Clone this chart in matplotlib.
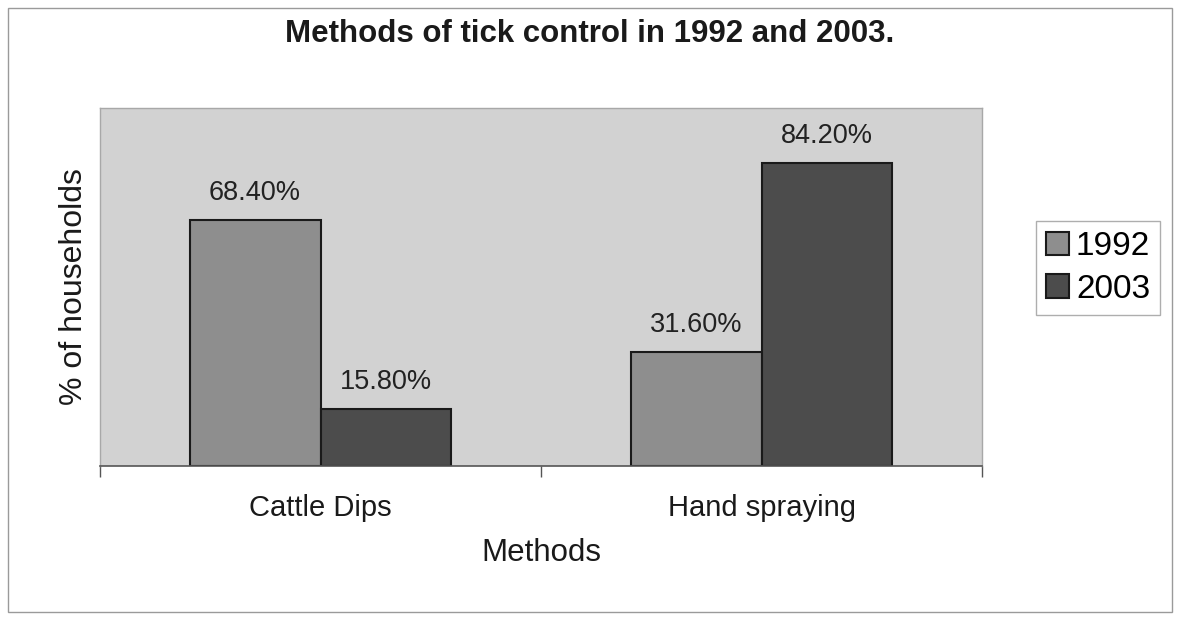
import matplotlib.pyplot as plt
import numpy as np
from matplotlib.patches import Rectangle

plt.rcParams['font.family'] = ['Liberation Sans', 'DejaVu Sans']

methods = ['Cattle Dips', 'Hand spraying']
years = ['1992', '2003']
pct_1992 = [68.4, 31.6]
pct_2003 = [15.8, 84.2]

colors = ['#8e8e8e', '#4c4c4c']

fig = plt.figure(figsize=(11.8, 6.22), dpi=100)
fig.patch.set_facecolor('white')

# thin frame round the whole chart
fig.patches.append(Rectangle((8 / 1180, 10 / 622), 1164 / 1180, 604 / 622,
                             transform=fig.transFigure, fill=False,
                             edgecolor='#9a9a9a', linewidth=1.0))

ax = fig.add_axes([100 / 1180, 1 - 466 / 622, 882 / 1180, 358 / 622])
ax.set_facecolor('#d2d2d2')

x = np.arange(len(methods))
w = 0.297
b1 = ax.bar(x - w / 2, pct_1992, w, color=colors[0], edgecolor='#1a1a1a',
            linewidth=1.5, label=years[0])
b2 = ax.bar(x + w / 2, pct_2003, w, color=colors[1], edgecolor='#1a1a1a',
            linewidth=1.5, label=years[1])

for bars, vals in ((b1, pct_1992), (b2, pct_2003)):
    for r, v in zip(bars, vals):
        ax.text(r.get_x() + r.get_width() / 2, v + 4.0, '%.2f%%' % v,
                ha='center', va='bottom', fontsize=19.5, color='#222222')

ax.set_xlim(-0.5, 1.5)
ax.set_ylim(0, 99.5)
ax.set_yticks([])
ax.set_xticks(x)
ax.set_xticklabels(methods, fontsize=21, color='#1a1a1a')
ax.tick_params(axis='x', which='major', length=0, pad=20)
ax.set_xticks([-0.5, 0.5, 1.5], minor=True)
ax.tick_params(axis='x', which='minor', length=8, width=1.0, color='#555555')

for s in ('left', 'top', 'right'):
    ax.spines[s].set_color('#a8a8a8')
    ax.spines[s].set_linewidth(1.0)
ax.spines['bottom'].set_color('#555555')
ax.spines['bottom'].set_linewidth(1.2)

ax.set_xlabel('Methods', fontsize=22.5, color='#1a1a1a', labelpad=12)
ax.set_ylabel('% of households', fontsize=23, color='#1a1a1a', labelpad=8)

fig.text(0.5, 1 - 34 / 622, 'Methods of tick control in 1992 and 2003.',
         ha='center', va='center', fontsize=22.5, fontweight='bold',
         color='#1a1a1a')

leg = ax.legend(loc='center left', bbox_to_anchor=(1036 / 1180, 1 - 268 / 622),
                bbox_transform=fig.transFigure, fontsize=24, frameon=True,
                fancybox=False, edgecolor='#9a9a9a', handlelength=0.7,
                handleheight=0.7, handletextpad=0.2, borderpad=0.3,
                labelspacing=0.35, borderaxespad=0)
leg.get_frame().set_linewidth(1.0)
for h in leg.legend_handles:
    h.set_edgecolor('#1a1a1a')

fig.savefig('out.png', dpi=100, facecolor='white')
